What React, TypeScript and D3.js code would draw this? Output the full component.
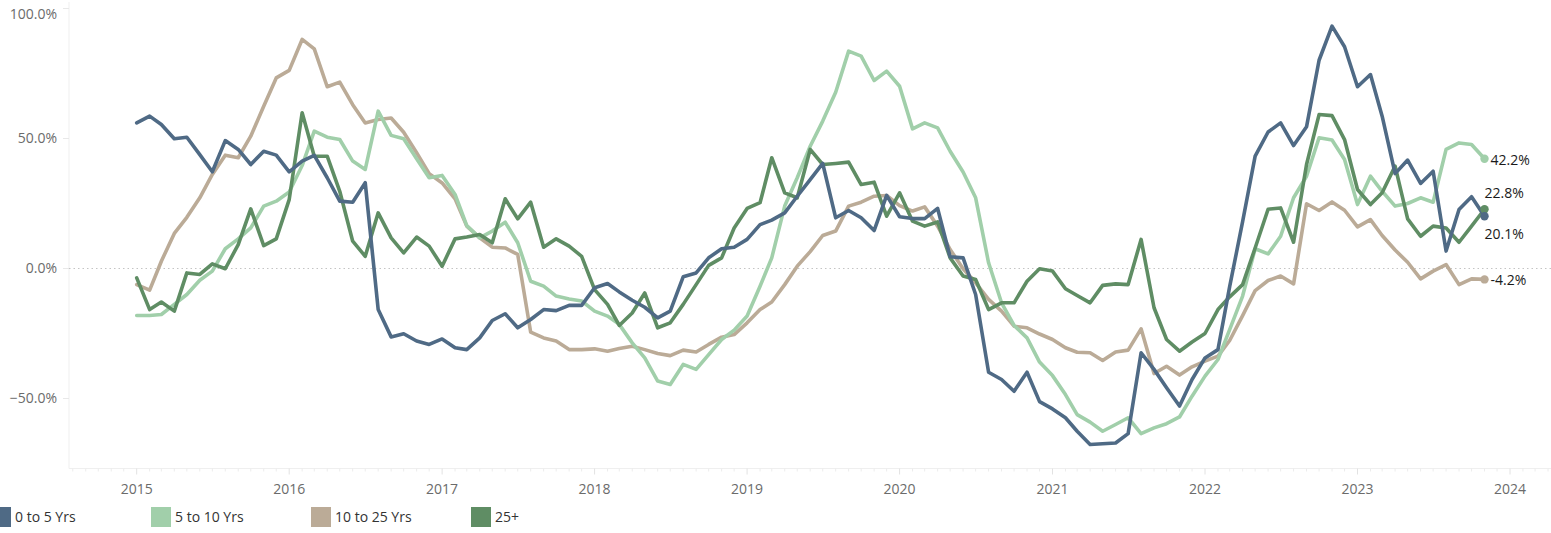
import * as d3 from 'd3';
import React from 'react';

// monthly change, Jan 2015 .. Nov 2023 (percent)
const startMonth = new Date(2015, 0, 1);

const seriesNames = ['0 to 5 Yrs', '5 to 10 Yrs', '10 to 25 Yrs', '25+'];
const seriesColors = ['#4f6a85', '#a1cfaa', '#bbab97', '#5f8d64'];

const zeroToFive = [
  56.0, 58.6, 55.4, 49.9, 50.5, 43.8, 37.2, 49.2, 45.8, 40.0, 45.1, 43.6,
  37.2, 41.3, 43.5, 34.9, 25.9, 25.5, 33.0, -15.8, -26.3, -25.1, -27.9, -29.2,
  -27.1, -30.5, -31.2, -26.7, -20.0, -17.4, -22.8, -19.6, -15.8, -16.2, -14.2, -14.2,
  -7.4, -5.8, -9.0, -12.2, -14.9, -19.0, -16.4, -3.2, -1.7, 4.1, 7.6, 8.2,
  11.2, 16.9, 18.6, 21.4, 27.8, 34.2, 40.4, 19.5, 22.3, 19.5, 14.6, 28.1,
  19.9, 19.2, 19.2, 23.1, 4.5, 4.1, -10.0, -39.9, -42.7, -47.2, -39.9, -51.2,
  -54.0, -57.4, -62.6, -67.7, -67.4, -67.1, -63.5, -32.4, -38.8, -45.9, -52.9, -42.7,
  -34.4, -31.2, -7.0, 18.0, 43.2, 52.5, 56.0, 47.3, 54.5, 80.1, 93.2, 85.3,
  69.9, 74.6, 58.6, 36.5, 41.7, 32.7, 37.4, 6.7, 22.7, 27.6, 20.1,
];

const fiveToTen = [
  -18.1, -18.1, -17.7, -13.8, -10.0, -4.5, -1.0, 7.6, 11.4, 15.6, 24.0, 25.9,
  29.4, 39.6, 52.8, 50.5, 49.6, 41.3, 38.1, 60.5, 51.2, 49.9, 42.2, 34.9,
  35.8, 28.5, 16.5, 11.8, 14.4, 17.8, 9.9, -4.9, -6.8, -10.6, -11.7, -12.5,
  -16.4, -18.3, -21.5, -28.6, -34.4, -43.3, -44.6, -36.9, -38.8, -33.1, -27.3, -23.7,
  -18.3, -6.8, 4.1, 24.0, 34.9, 47.0, 56.7, 67.8, 83.6, 81.7, 72.3, 75.9,
  70.1, 53.7, 56.0, 54.1, 45.1, 37.1, 27.2, 2.2, -13.2, -21.9, -26.7, -36.0,
  -41.2, -48.5, -56.2, -59.1, -62.6, -60.0, -57.4, -63.5, -61.3, -59.7, -57.1, -49.1,
  -41.4, -35.0, -23.5, -10.6, 7.6, 5.6, 12.4, 27.2, 35.5, 50.3, 49.4, 41.9,
  24.6, 35.5, 29.7, 24.0, 25.0, 27.2, 25.5, 45.8, 48.3, 47.7, 42.2,
];

const tenToTwentyFive = [
  -6.2, -8.3, 2.8, 13.5, 19.7, 27.2, 36.2, 43.6, 42.6, 50.9, 62.4, 73.3,
  76.2, 88.1, 84.5, 69.9, 71.7, 63.0, 56.0, 57.3, 57.9, 52.4, 44.5, 36.5,
  32.9, 26.8, 16.3, 11.8, 8.2, 7.9, 5.4, -24.5, -26.7, -27.9, -31.2, -31.2,
  -30.9, -31.8, -30.8, -29.9, -31.2, -32.7, -33.5, -31.4, -32.1, -29.2, -26.4, -25.4,
  -20.9, -15.8, -12.9, -6.2, 0.9, 6.5, 12.7, 14.4, 24.0, 25.5, 27.8, 28.1,
  24.2, 22.1, 23.7, 16.3, 7.3, -0.1, -5.5, -11.9, -16.4, -22.2, -22.8, -25.2,
  -27.3, -30.5, -32.2, -32.4, -35.4, -32.1, -31.4, -23.2, -40.4, -37.6, -41.0, -37.8,
  -35.6, -33.7, -27.7, -18.1, -8.5, -4.6, -2.9, -5.9, 24.9, 22.3, 25.6, 22.4,
  16.0, 18.8, 12.7, 7.1, 2.4, -4.0, -1.0, 1.5, -6.2, -4.0, -4.2,
];

const twentyFivePlus = [
  -3.6, -15.8, -12.9, -16.4, -1.7, -2.3, 1.8, -0.1, 9.2, 22.9, 8.8, 11.4,
  26.5, 59.9, 43.2, 43.2, 29.7, 10.5, 4.7, 21.4, 11.8, 6.0, 12.1, 8.6,
  0.9, 11.4, 12.1, 13.1, 9.9, 26.8, 19.1, 25.5, 8.2, 11.4, 8.6, 4.7,
  -8.1, -13.8, -21.9, -17.1, -9.4, -22.8, -20.9, -13.8, -6.2, 1.2, 4.1, 15.6,
  23.1, 25.3, 42.6, 29.1, 27.2, 45.8, 40.0, 40.4, 40.9, 32.3, 33.2, 20.1,
  29.1, 18.2, 16.3, 17.9, 4.1, -2.9, -4.2, -15.8, -13.2, -13.2, -4.9, -0.1,
  -1.0, -7.8, -10.4, -13.2, -6.5, -5.9, -6.2, 11.2, -15.1, -27.3, -31.8, -28.3,
  -25.0, -15.8, -10.9, -6.2, 7.9, 22.8, 23.3, 10.1, 40.0, 59.2, 58.8, 49.6,
  30.4, 24.6, 29.1, 39.4, 19.1, 12.4, 16.3, 15.6, 10.1, 16.3, 22.8,
];

const seriesValues = [zeroToFive, fiveToTen, tenToTwentyFive, twentyFivePlus];
const drawOrder = [2, 1, 3, 0];

const yTicks = [100, 50, 0, -50];
const endLabelText = ['20.1%', '42.2%', '-4.2%', '22.8%'];
// offsets of the end labels from the last point
const endLabelOffset = [
  { dx: 0, dy: 18 },
  { dx: 6, dy: 1 },
  { dx: 6, dy: 1 },
  { dx: 0, dy: -16 },
];

const W = 1551;
const H = 533;

const App: React.FC = () => {
  const months = seriesValues[0].map((_, i) => d3.timeMonth.offset(startMonth, i));

  const x = d3.scaleTime()
    .domain([new Date(2015, 0, 1), new Date(2024, 0, 1)])
    .range([136.7, 1510]);
  const y = d3.scaleLinear().domain([-50, 50]).range([398.5, 138.5]);

  const left = 69;
  const bottom = 468.5;
  const fullDomain = [x.invert(left), x.invert(W)];
  const yearTicks = d3.timeYear.range(new Date(2015, 0, 1), new Date(2024, 1, 1));
  const monthTicks = d3.timeMonth.range(fullDomain[0], fullDomain[1]).filter(d => d.getMonth() !== 0);

  const line = d3.line<number>()
    .x((_, i) => x(months[i]))
    .y(d => y(d));

  const font = '"Open Sans", "Noto Sans", sans-serif';

  return (
    <svg width={W} height={H} style={{ position: 'absolute', left: 0, top: 0, background: '#fff' }}>
      {/* axes */}
      <line x1={left} x2={left} y1={2} y2={bottom} stroke="#efefef" />
      <line x1={left} x2={W} y1={bottom} y2={bottom} stroke="#efefef" />
      {yTicks.map(t => (
        <g key={t}>
          <line x1={63} x2={left} y1={y(t)} y2={y(t)} stroke="#e8e8e8" />
          <text x={57} y={Math.max(y(t), 14)} dy="0.35em" textAnchor="end" fontFamily={font} fontSize={14} fill="#6b6b6b">
            {d3.format('.1f')(t) + '%'}
          </text>
        </g>
      ))}
      <line x1={left} x2={W} y1={y(0)} y2={y(0)} stroke="#c4c4c4" strokeDasharray="1.5,3" />
      {monthTicks.map(d => (
        <line key={+d} x1={x(d)} x2={x(d)} y1={bottom} y2={bottom + 3} stroke="#ececec" />
      ))}
      {yearTicks.map(d => (
        <g key={+d}>
          <line x1={x(d)} x2={x(d)} y1={bottom} y2={bottom + 6} stroke="#e2e2e2" />
          <text x={x(d)} y={489} dy="0.35em" textAnchor="middle" fontFamily={font} fontSize={14} fill="#6b6b6b">
            {d.getFullYear()}
          </text>
        </g>
      ))}

      {/* lines */}
      {drawOrder.map(s => (
        <path key={s} d={line(seriesValues[s]) || ''} fill="none" stroke={seriesColors[s]} strokeWidth={3.6} strokeLinejoin="round" strokeLinecap="round" />
      ))}
      {drawOrder.map(s => {
        const vals = seriesValues[s];
        const last = vals.length - 1;
        const px = x(months[last]);
        const py = y(vals[last]);
        const off = endLabelOffset[s];
        return (
          <g key={'end' + s}>
            <circle cx={px} cy={py} r={4.2} fill={seriesColors[s]} />
            <text x={px + off.dx} y={py + off.dy} dy="0.35em" fontFamily={font} fontSize={14} fill="#1a1a1a">
              {endLabelText[s]}
            </text>
          </g>
        );
      })}

      {/* legend */}
      {seriesNames.map((name, i) => (
        <g key={name} transform={`translate(${-9 + i * 160}, 507)`}>
          <rect width={20} height={20} fill={seriesColors[i]} />
          <text x={24} y={10} dy="0.35em" fontFamily={font} fontSize={14} fill="#333">
            {name}
          </text>
        </g>
      ))}
    </svg>
  );
};

export default App;
